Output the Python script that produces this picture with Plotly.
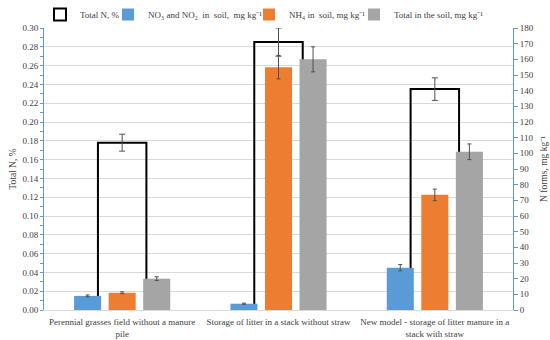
import plotly.graph_objects as go

categories = [
    "Perennial grasses field without a manure<br>pile",
    "Storage of litter in a stack without straw",
    "New model - storage of litter manure in a<br>stack with straw",
]
total_n = [0.178, 0.285, 0.235]
total_n_err = [0.009, 0.015, 0.012]
no3_no2 = [9, 4, 27]
no3_no2_err = [0.6, 0.4, 2]
nh4 = [11, 155, 73.5]
nh4_err = [0.6, 7.5, 3.7]
total_soil = [20, 160, 101]
total_soil_err = [1.2, 8, 5]

FONT = "Liberation Serif, Times New Roman, serif"
AXIS_BLUE = "#5B9BD5"
ERR = "#505050"

# start the outline bar just below the axis so its bottom edge is clipped away
BASE = -0.003

fig = go.Figure()

fig.add_trace(go.Bar(
    x=categories, y=[v - BASE for v in total_n], base=BASE,
    name="Total N, %", legend="legend",
    marker=dict(color="rgba(255,255,255,0)", line=dict(color="black", width=2)),
    width=0.31, offset=-0.155,
    error_y=dict(type="data", array=total_n_err, color=ERR, thickness=1, width=3),
    yaxis="y",
))

pitch = 0.221
bw = 0.173
series = [
    ("NO₃ and NO₂  in  soil,  mg kg⁻¹", no3_no2, no3_no2_err, "#5B9BD5", -1, "legend2"),
    ("NH₄ in  soil, mg kg⁻¹", nh4, nh4_err, "#ED7D31", 0, "legend3"),
    ("Total in the soil, mg kg⁻¹", total_soil, total_soil_err, "#A5A5A5", 1, "legend4"),
]
for name, vals, errs, col, k, lg in series:
    fig.add_trace(go.Bar(
        x=categories, y=vals, name=name, legend=lg,
        marker=dict(color=col, line=dict(width=0)),
        width=bw, offset=k * pitch - bw / 2,
        error_y=dict(type="data", array=errs, color=ERR, thickness=1, width=2),
        yaxis="y2",
    ))

def leg(xpos):
    return dict(orientation="h", x=xpos, xanchor="left", xref="container",
                y=1.0, yanchor="top", yref="container",
                font=dict(size=9, color="#404040"), bgcolor="rgba(0,0,0,0)",
                itemwidth=30)

fig.update_layout(
    width=550, height=340,
    margin=dict(l=44, r=37, t=28, b=30, autoexpand=False),
    paper_bgcolor="white", plot_bgcolor="white",
    font=dict(family=FONT, size=9, color="#404040"),
    barmode="overlay",
    showlegend=True,
    legend=leg(40 / 550),
    legend2=leg(108 / 550),
    legend3=leg(249 / 550),
    legend4=leg(354 / 550),
    xaxis=dict(
        type="category", showgrid=False, showline=True, linecolor="#D9D9D9",
        linewidth=1, ticks="outside", ticklen=3, tickcolor="rgba(0,0,0,0)",
        tickangle=0, automargin=False,
        tickfont=dict(size=9, color="#404040"),
    ),
    yaxis=dict(
        range=[0, 0.30], dtick=0.02, tickformat=".2f",
        showgrid=True, gridcolor="#D9D9D9", gridwidth=1,
        showline=True, linecolor=AXIS_BLUE, linewidth=1,
        ticks="outside", ticklen=3, tickcolor=AXIS_BLUE,
        minor=dict(dtick=0.01, ticks="outside", ticklen=3, tickcolor=AXIS_BLUE, showgrid=False),
        zeroline=False, automargin=False,
        title=dict(text="Total N, %", font=dict(size=9.5, color="#404040"), standoff=4),
    ),
    yaxis2=dict(
        range=[0, 180], dtick=10, overlaying="y", side="right",
        showgrid=False, showline=True, linecolor=AXIS_BLUE, linewidth=1,
        ticks="outside", ticklen=4, tickcolor=AXIS_BLUE, zeroline=False, automargin=False,
        title=dict(text="N forms, mg kg⁻¹", font=dict(size=9.5, color="#404040"), standoff=7),
    ),
)

fig.write_html("out.html", config={"displayModeBar": False},
               post_script="document.body.style.margin='0';document.body.style.padding='0';")
